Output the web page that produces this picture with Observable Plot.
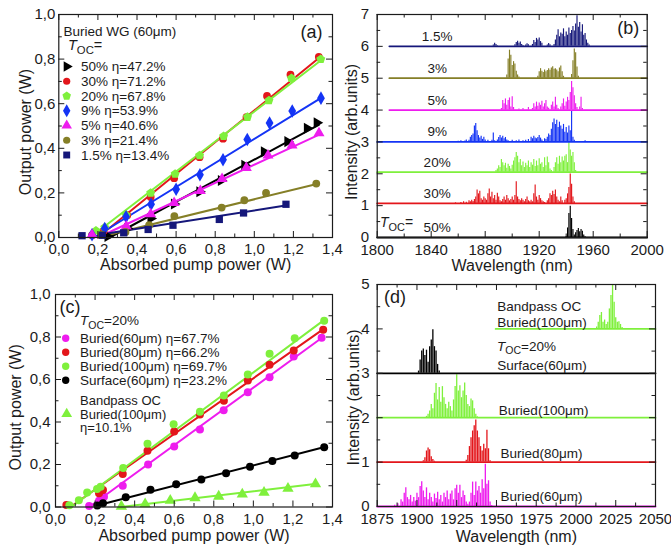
<!DOCTYPE html>
<html><head><meta charset="utf-8">
<script src="https://cdn.jsdelivr.net/npm/d3@7"></script>
<script src="https://cdn.jsdelivr.net/npm/@observablehq/plot@0.6"></script>
<style>
body{margin:0;background:#fff;}
#root{position:relative;width:671px;height:546px;overflow:hidden;background:#fff;}
</style></head><body><div id="root"></div>
<script>
// ================= DATA =================
// ---- Panel (a): Buried WG (60um), output power vs absorbed pump power
const tocA = ["50%","30%","20%","9%","5%","3%","1.5%"];
const etaA = ["47.2%","71.2%","67.8%","53.9%","40.6%","21.4%","13.4%"];
const a50 = [[0.25,0.005],[0.35,0.04],[0.47,0.085],[0.59,0.15],[0.72,0.205],[0.83,0.256],[0.95,0.324],[1.05,0.384],[1.17,0.43],[1.27,0.49],[1.32,0.515]];
const a30 = [[0.17,0.01],[0.23,0.03],[0.35,0.1],[0.47,0.182],[0.59,0.266],[0.72,0.36],[0.84,0.443],[0.96,0.54],[1.065,0.635],[1.185,0.73],[1.33,0.81]];
const a20 = [[0.19,0.03],[0.235,0.045],[0.345,0.1],[0.47,0.2],[0.595,0.285],[0.72,0.368],[0.843,0.454],[0.965,0.54],[1.075,0.615],[1.19,0.714],[1.34,0.8]];
const a9  = [[0.17,0.012],[0.235,0.04],[0.344,0.093],[0.472,0.149],[0.6,0.216],[0.722,0.281],[0.84,0.349],[0.964,0.439],[1.078,0.513],[1.194,0.567],[1.341,0.625]];
const a5  = [[0.17,0.012],[0.345,0.05],[0.47,0.105],[0.59,0.155],[0.724,0.209],[0.835,0.263],[0.959,0.313],[1.07,0.368],[1.193,0.413],[1.331,0.468]];
const a3  = [[0.22,0.013],[0.341,0.025],[0.462,0.055],[0.591,0.096],[0.833,0.134],[0.949,0.167],[1.06,0.2],[1.317,0.242]];
const a15 = [[0.119,0.008],[0.223,0.01],[0.332,0.021],[0.457,0.036],[0.584,0.055],[0.821,0.081],[0.945,0.11],[1.162,0.149]];
// linear fits: [[x0,y0],[x1,y1]]
const fitA50 = [[0.26,0],[1.33,0.505]];
const fitA30 = [[0.2,0],[1.34,0.812]];
const fitA20 = [[0.19,0.02],[1.345,0.797]];
const fitA9  = [[0.18,0],[1.34,0.625]];
const fitA5  = [[0.2,0],[1.34,0.465]];
const fitA3  = [[0.2,0],[1.32,0.24]];
const fitA15 = [[0.22,0.015],[1.16,0.143]];
const xTicksP = [0,0.2,0.4,0.6,0.8,1.0,1.2,1.4];
const xMinorP = [0.1,0.3,0.5,0.7,0.9,1.1,1.3];
const yTicksP = [0,0.2,0.4,0.6,0.8,1.0];
const yMinorP = [0.1,0.3,0.5,0.7,0.9];

// ---- Panel (b): spectra for different T_OC  ([wavelength nm, intensity above baseline])
const tocB = ["50%","30%","20%","9%","5%","3%","1.5%"];
const baseB = [0,1.07,2.05,3,4,5,6];
const startB = [1800,1800,1800,1800,1809,1809,1809];
const sB50 = [[1940,0.03],[1941,0.3],[1942,0.75],[1943,0.98],[1944,0.6],[1945,0.25],[1946,0.08],[1947,0.15],[1948,0.22],[1949,0.28],[1950,0.18],[1951,0.25],[1952,0.2],[1953,0.08],[1954,0.02]];
const sB30 = [[1858,0.02],[1862,0.03],[1864,0.05],[1866,0.04],[1868,0.08],[1869,0.05],[1870,0.1],[1871,0.06],[1872,0.12],[1873,0.2],[1874,0.42],[1875,0.3],[1876,0.38],[1877,0.15],[1878,0.1],[1879,0.2],[1880,0.15],[1881,0.1],[1882,0.3],[1883,0.45],[1884,0.2],[1885,0.35],[1886,0.15],[1887,0.25],[1888,0.1],[1889,0.32],[1890,0.2],[1891,0.08],[1892,0.05],[1893,0.12],[1894,0.2],[1895,0.1],[1896,0.25],[1897,0.15],[1898,0.08],[1899,0.12],[1900,0.2],[1901,0.1],[1902,0.25],[1903,0.68],[1904,0.2],[1905,0.12],[1906,0.08],[1907,0.15],[1908,0.1],[1909,0.05],[1910,0.12],[1911,0.2],[1912,0.08],[1913,0.05],[1914,0.1],[1915,0.05],[1916,0.3],[1917,0.58],[1918,0.2],[1919,0.1],[1920,0.25],[1921,0.15],[1922,0.08],[1923,0.05],[1924,0.03],[1926,0.08],[1927,0.15],[1928,0.3],[1929,0.25],[1930,0.38],[1931,0.28],[1932,0.42],[1933,0.2],[1934,0.1],[1935,0.05],[1936,0.2],[1937,0.08],[1939,0.1],[1940,0.15],[1941,0.3],[1942,0.5],[1943,0.92],[1944,0.6],[1945,0.2],[1946,0.05]];
const sB20 = [[1888,0.05],[1889,0.1],[1890,0.2],[1891,0.15],[1892,0.4],[1893,0.3],[1894,0.2],[1895,0.28],[1896,0.12],[1897,0.25],[1898,0.18],[1899,0.1],[1900,0.22],[1901,0.35],[1902,0.45],[1903,0.62],[1904,0.5],[1905,0.3],[1906,0.4],[1907,0.2],[1908,0.32],[1909,0.15],[1910,0.28],[1911,0.2],[1912,0.35],[1913,0.15],[1914,0.3],[1915,0.22],[1916,0.4],[1917,0.18],[1918,0.35],[1919,0.2],[1920,0.42],[1921,0.25],[1922,0.3],[1923,0.15],[1924,0.45],[1925,0.2],[1926,0.48],[1927,0.3],[1928,0.1],[1929,0.05],[1931,0.15],[1932,0.3],[1933,0.45],[1934,0.25],[1935,0.5],[1936,0.3],[1937,0.48],[1938,0.35],[1939,0.5],[1940,0.55],[1941,0.3],[1942,0.93],[1943,0.7],[1944,0.5],[1945,0.62],[1946,0.3],[1947,0.05]];
const sB9 = [[1860,0.02],[1862,0.04],[1865,0.03],[1866,0.06],[1868,0.05],[1869,0.15],[1870,0.2],[1871,0.25],[1872,0.5],[1873,0.58],[1874,0.35],[1875,0.2],[1876,0.12],[1877,0.18],[1878,0.08],[1879,0.15],[1880,0.06],[1882,0.05],[1885,0.05],[1886,0.28],[1887,0.04],[1889,0.06],[1890,0.14],[1891,0.2],[1892,0.12],[1893,0.18],[1894,0.1],[1895,0.14],[1896,0.06],[1897,0.04],[1900,0.05],[1903,0.04],[1905,0.06],[1908,0.04],[1910,0.05],[1912,0.08],[1914,0.15],[1915,0.1],[1916,0.18],[1917,0.12],[1918,0.1],[1919,0.14],[1920,0.2],[1921,0.12],[1922,0.06],[1924,0.1],[1925,0.08],[1926,0.15],[1927,0.25],[1928,0.2],[1929,0.4],[1930,0.6],[1931,0.72],[1932,0.55],[1933,0.68],[1934,0.45],[1935,0.62],[1936,0.5],[1937,0.4],[1938,0.55],[1939,0.3],[1940,0.45],[1941,0.28],[1942,0.5],[1943,0.35],[1944,0.97],[1945,0.15],[1946,0.05],[1954,0.04]];
const sB5 = [[1892,0.05],[1893,0.3],[1894,0.2],[1895,0.35],[1896,0.15],[1897,0.3],[1898,0.38],[1899,0.1],[1900,0.42],[1901,0.08],[1905,0.03],[1908,0.05],[1912,0.08],[1915,0.05],[1916,0.2],[1917,0.1],[1918,0.25],[1919,0.12],[1920,0.22],[1921,0.15],[1922,0.28],[1923,0.1],[1924,0.2],[1925,0.3],[1926,0.1],[1927,0.06],[1929,0.15],[1930,0.25],[1931,0.1],[1932,0.4],[1933,0.15],[1934,0.05],[1936,0.1],[1937,0.2],[1938,0.35],[1939,0.12],[1940,0.25],[1941,0.4],[1942,0.3],[1943,0.55],[1944,0.9],[1945,0.7],[1946,0.45],[1947,0.2],[1948,0.08],[1950,0.1],[1951,0.4],[1952,0.05]];
const sB3 = [[1896,0.1],[1897,0.6],[1898,0.88],[1899,0.72],[1900,0.4],[1901,0.52],[1902,0.45],[1903,0.22],[1904,0.1],[1905,0.04],[1919,0.06],[1920,0.2],[1921,0.3],[1922,0.22],[1923,0.18],[1924,0.26],[1925,0.2],[1926,0.24],[1927,0.3],[1928,0.25],[1929,0.32],[1930,0.36],[1931,0.28],[1932,0.3],[1933,0.26],[1934,0.2],[1935,0.32],[1936,0.38],[1937,0.2],[1938,0.06],[1944,0.12],[1945,0.55],[1946,0.92],[1947,0.8],[1948,0.35],[1949,0.06]];
const sB15 = [[1886,0.04],[1887,0.1],[1888,0.06],[1889,0.02],[1902,0.05],[1903,0.12],[1904,0.16],[1905,0.1],[1906,0.14],[1907,0.06],[1908,0.03],[1910,0.04],[1911,0.08],[1912,0.05],[1915,0.06],[1916,0.18],[1917,0.12],[1918,0.25],[1919,0.2],[1920,0.26],[1921,0.15],[1922,0.1],[1926,0.04],[1927,0.09],[1928,0.05],[1931,0.06],[1932,0.2],[1933,0.35],[1934,0.52],[1935,0.3],[1936,0.42],[1937,0.38],[1938,0.55],[1939,0.3],[1940,0.45],[1941,0.35],[1942,0.58],[1943,0.4],[1944,0.5],[1945,0.62],[1946,0.48],[1947,0.7],[1948,0.96],[1949,0.6],[1950,0.75],[1951,0.45],[1952,0.68],[1953,0.35],[1954,0.4],[1955,0.2],[1956,0.1],[1957,0.04]];
const xTicksB = [1800,1840,1880,1920,1960,2000];
const xMinorB = [1820,1860,1900,1940,1980];
const yTicksB = [0,1,2,3,4,5,6,7];
const yMinorB = [0.5,1.5,2.5,3.5,4.5,5.5,6.5];

// ---- Panel (c): T_OC = 20%, different waveguides
const nameC = ["Buried(60μm)","Buried(80μm)","Buried(100μm)","Surface(60μm)"];
const etaC = ["67.7%","66.2%","69.7%","23.2%"];
const c60 = [[0.17,0.005],[0.22,0.03],[0.245,0.048],[0.34,0.1],[0.468,0.2],[0.6,0.285],[0.73,0.365],[0.85,0.455],[0.972,0.54],[1.082,0.611],[1.204,0.708],[1.345,0.796]];
const c80 = [[0.055,0.01],[0.22,0.065],[0.24,0.08],[0.34,0.155],[0.465,0.265],[0.6,0.355],[0.73,0.435],[0.851,0.5],[0.972,0.595],[1.082,0.669],[1.204,0.736],[1.353,0.834]];
const c100 = [[0.07,0.008],[0.118,0.032],[0.16,0.068],[0.21,0.085],[0.228,0.095],[0.342,0.184],[0.465,0.298],[0.597,0.39],[0.73,0.448],[0.851,0.525],[0.972,0.624],[1.082,0.721],[1.209,0.794],[1.358,0.876]];
const cSurf = [[0.211,0.007],[0.24,0.018],[0.355,0.046],[0.48,0.081],[0.61,0.107],[0.737,0.129],[0.862,0.159],[0.983,0.19],[1.096,0.216],[1.209,0.242],[1.358,0.281]];
const cBand = [[0.333,0.003],[0.453,0.014],[0.58,0.031],[0.705,0.043],[0.825,0.05],[0.944,0.06],[1.054,0.068],[1.175,0.087],[1.314,0.108]];
const etaBand = "10.1%";
const fitC60 = [[0.17,0],[1.345,0.795]];
const fitC80 = [[0.075,0],[1.35,0.835]];
const fitC100 = [[0.08,0],[1.355,0.878]];
const fitCSurf = [[0.2,0.005],[1.36,0.282]];
const fitCBand = [[0.33,0],[1.31,0.108]];

// ---- Panel (d): spectra for different waveguides
const nameD = ["Buried(60μm)","Buried(80μm)","Buried(100μm)","Surface(60μm)","Bandpass OC"];
const baseD = [0,1,2,3,4];
const startD = [1875,1875,1875,1875,1949.5];
const sD60 = [[1886,0.03],[1888,0.06],[1890,0.15],[1891,0.1],[1892,0.3],[1893,0.42],[1894,0.2],[1895,0.15],[1896,0.25],[1897,0.1],[1898,0.2],[1899,0.12],[1900,0.3],[1901,0.2],[1902,0.45],[1903,0.56],[1904,0.35],[1905,0.2],[1906,0.42],[1907,0.15],[1908,0.3],[1909,0.2],[1910,0.1],[1911,0.28],[1912,0.18],[1913,0.32],[1914,0.15],[1915,0.25],[1916,0.1],[1917,0.3],[1918,0.2],[1919,0.35],[1920,0.15],[1921,0.28],[1922,0.35],[1923,0.15],[1924,0.4],[1925,0.48],[1926,0.3],[1927,0.48],[1928,0.2],[1929,0.35],[1930,0.25],[1931,0.1],[1932,0.05],[1933,0.1],[1934,0.3],[1935,0.55],[1936,0.25],[1937,0.55],[1938,0.35],[1939,0.45],[1940,0.3],[1941,0.6],[1942,0.4],[1943,0.95],[1944,0.5],[1945,0.58],[1946,0.1],[1947,0.02]];
const sD80 = [[1904,0.03],[1905,0.1],[1906,0.25],[1907,0.32],[1908,0.28],[1909,0.12],[1910,0.06],[1911,0.02],[1931,0.04],[1932,0.15],[1933,0.35],[1934,0.55],[1935,0.7],[1936,0.82],[1937,0.95],[1938,0.7],[1939,0.55],[1940,0.35],[1941,0.25],[1942,0.4],[1943,0.3],[1944,0.72],[1945,0.3],[1946,0.03]];
const sD100 = [[1906,0.03],[1907,0.08],[1908,0.15],[1909,0.3],[1910,0.2],[1911,0.55],[1912,0.77],[1913,0.4],[1914,0.68],[1915,0.35],[1916,0.7],[1917,0.45],[1918,0.3],[1919,0.2],[1920,0.35],[1921,0.25],[1922,0.15],[1923,0.4],[1924,0.7],[1925,0.97],[1926,0.6],[1927,0.72],[1928,0.45],[1929,0.6],[1930,0.78],[1931,0.5],[1932,0.3],[1933,0.25],[1934,0.42],[1935,0.38],[1936,0.2],[1937,0.08],[1938,0.02]];
const sDSurf = [[1901,0.05],[1902,0.3],[1903,0.5],[1904,0.55],[1905,0.4],[1906,0.52],[1907,0.25],[1908,0.6],[1909,0.75],[1910,0.98],[1911,0.6],[1912,0.5],[1913,0.2],[1914,0.05]];
const sDBand = [[2013,0.04],[2014,0.15],[2015,0.3],[2016,0.37],[2017,0.15],[2018,0.2],[2019,0.1],[2020,0.15],[2021,0.45],[2022,0.75],[2023,0.99],[2024,0.6],[2025,0.25],[2026,0.15],[2027,0.16],[2028,0.1],[2029,0.03]];
const xTicksD = [1875,1900,1925,1950,1975,2000,2025,2050];
const xMinorD = [1887.5,1912.5,1937.5,1962.5,1987.5,2012.5,2037.5];
const yTicksD = [0,1,2,3,4,5];
const yMinorD = [0.5,1.5,2.5,3.5,4.5];

// ================= STYLE =================
const FONT = '"Liberation Sans", Arial, Helvetica, sans-serif';
const INK = "#1b1b1b";
const COL = {black:"#000000", red:"#e3161b", green:"#7ff03c", blue:"#1434f5", magenta:"#ee1cee", olive:"#857f27", navy:"#15177a"};
const symTriRight = {draw(ctx, size){const s=Math.sqrt(size/0.433), h=s*0.866; ctx.moveTo(h*2/3,0); ctx.lineTo(-h/3,-s/2); ctx.lineTo(-h/3,s/2); ctx.closePath();}};
const symPent = {draw(ctx, size){const r=Math.sqrt(size/2.3776); for(let i=0;i<5;i++){const a=-Math.PI/2+i*2*Math.PI/5; const x=r*Math.cos(a), y=r*Math.sin(a); if(i) ctx.lineTo(x,y); else ctx.moveTo(x,y);} ctx.closePath();}};
const styleA = [
  {c:COL.black, s:symTriRight},{c:COL.red, s:"circle"},{c:COL.green, s:symPent},{c:COL.blue, s:"diamond"},
  {c:COL.magenta, s:"triangle"},{c:COL.olive, s:"circle"},{c:COL.navy, s:"square"}];
const ptsA = [a50,a30,a20,a9,a5,a3,a15];
const fitsA = [fitA50,fitA30,fitA20,fitA9,fitA5,fitA3,fitA15];
const colB = [COL.black,COL.red,COL.green,COL.blue,COL.magenta,COL.olive,COL.navy];
const specB = [sB50,sB30,sB20,sB9,sB5,sB3,sB15];
const colC = [COL.magenta,COL.red,COL.green,COL.black];
const ptsC = [c60,c80,c100,cSurf];
const fitsC = [fitC60,fitC80,fitC100,fitCSurf];
const colD = [COL.magenta,COL.red,COL.green,COL.black,COL.green];
const specD = [sD60,sD80,sD100,sDSurf,sDBand];

const fmtComma = d => d.toFixed(1).replace(".", ",");
const root = document.getElementById("root");

function frameMarks(xMaj,xMin,yMaj,yMin,iw,ih){
  const s = {stroke:INK, strokeWidth:1};
  const M = 6, m = 3.5;
  return [
    Plot.tickX(xMaj,{x:d=>d, insetTop:ih-M, ...s}),
    Plot.tickX(xMaj,{x:d=>d, insetBottom:ih-M, ...s}),
    Plot.tickX(xMin,{x:d=>d, insetTop:ih-m, ...s}),
    Plot.tickX(xMin,{x:d=>d, insetBottom:ih-m, ...s}),
    Plot.tickY(yMaj,{y:d=>d, insetRight:iw-M, ...s}),
    Plot.tickY(yMaj,{y:d=>d, insetLeft:iw-M, ...s}),
    Plot.tickY(yMin,{y:d=>d, insetRight:iw-m, ...s}),
    Plot.tickY(yMin,{y:d=>d, insetLeft:iw-m, ...s}),
    Plot.frame({stroke:INK, strokeWidth:1.2})
  ];
}
function place(svg, left, top){
  svg.style.position = "absolute"; svg.style.left = left+"px"; svg.style.top = top+"px";
  svg.style.maxWidth = "none"; svg.style.background = "transparent";
  root.appendChild(svg);
}
function panel({left, top, width, height, mt, mr, mb, ml, xDom, yDom, xMaj, xMin, yMaj, yMin, xFmt, yFmt, xPad, yPad, xTitle, yTitle, xtDy, ytDx, ytDy, marks}){
  const iw = width-ml-mr, ih = height-mt-mb;
  const svg = Plot.plot({
    width, height, marginTop:mt, marginRight:mr, marginBottom:mb, marginLeft:ml,
    x:{domain:xDom}, y:{domain:yDom},
    style:{fontFamily:FONT, color:INK, background:"transparent", overflow:"visible"},
    marks:[
      ...marks,
      ...frameMarks(xMaj,xMin,yMaj,yMin,iw,ih),
      Plot.axisX({ticks:xMaj, tickSize:0, tickPadding:xPad, tickFormat:xFmt, fontSize:15, label:null}),
      Plot.axisY({ticks:yMaj, tickSize:0, tickPadding:yPad, tickFormat:yFmt, fontSize:15, label:null}),
      Plot.text([xTitle],{text:d=>d, frameAnchor:"bottom", textAnchor:"middle", lineAnchor:"middle", dy:xtDy, fontSize:16}),
      Plot.text([yTitle],{text:d=>d, frameAnchor:"left", textAnchor:"middle", lineAnchor:"middle", dx:ytDx, dy:ytDy, rotate:-90, fontSize:16})
    ]
  });
  place(svg, left, top);
}

// ---------- Panel (a)
const marksA = [];
fitsA.forEach((f,i)=>marksA.push(Plot.line(f,{x:d=>d[0], y:d=>d[1], stroke:styleA[i].c, strokeWidth:2})));
ptsA.forEach((p,i)=>marksA.push(Plot.dot(p,{x:d=>d[0], y:d=>d[1], fill:styleA[i].c, symbol:styleA[i].s, r:(styleA[i].s==="circle"?3.9:4.1)})));
panel({left:0, top:0, width:340, height:270, mt:14, mr:8, mb:33, ml:58.3,
  xDom:[0,1.4], yDom:[0,1], xMaj:xTicksP, xMin:xMinorP, yMaj:yTicksP, yMin:yMinorP,
  xFmt:fmtComma, yFmt:fmtComma, xPad:6, yPad:3.5,
  xTitle:"Absorbed pump power (W)", yTitle:"Output power (W)", xtDy:27.5, ytDx:-33, ytDy:6, marks:marksA});

// ---------- Panel (b)
const marksB = [];
specB.forEach((s,i)=>{
  marksB.push(Plot.line([[startB[i],baseB[i]],[2000,baseB[i]]],{x:d=>d[0], y:d=>d[1], stroke:colB[i], strokeWidth:1.8}));
  marksB.push(Plot.ruleX(s,{x:d=>d[0], y1:()=>baseB[i], y2:d=>baseB[i]+d[1], stroke:colB[i], strokeWidth:1.15}));
});
const labelXB = 1844.4;
marksB.push(Plot.text(tocB.map((t,i)=>({t, y:baseB[i]})),{x:()=>labelXB, y:d=>d.y+0.31, text:d=>d.t, fontSize:13.5, fill:INK}));
panel({left:330, top:0, width:341, height:270, mt:14, mr:24.3, mb:33, ml:46.7,
  xDom:[1800,2000], yDom:[0,7], xMaj:xTicksB, xMin:xMinorB, yMaj:yTicksB, yMin:yMinorB,
  xFmt:d=>String(d), yFmt:d=>String(d), xPad:7, yPad:8,
  xTitle:"Wavelength (nm)", yTitle:"Intensity (arb.units)", xtDy:28.5, ytDx:-25, ytDy:6, marks:marksB});

// ---------- Panel (c)
const marksC = [];
fitsC.forEach((f,i)=>marksC.push(Plot.line(f,{x:d=>d[0], y:d=>d[1], stroke:colC[i], strokeWidth:2})));
marksC.push(Plot.line(fitCBand,{x:d=>d[0], y:d=>d[1], stroke:COL.green, strokeWidth:2}));
ptsC.forEach((p,i)=>marksC.push(Plot.dot(p,{x:d=>d[0], y:d=>d[1], fill:colC[i], r:4})));
marksC.push(Plot.dot(cBand,{x:d=>d[0], y:d=>d[1], fill:COL.green, symbol:"triangle", r:4.2}));
panel({left:0, top:270, width:340, height:276, mt:24, mr:8, mb:39.5, ml:55,
  xDom:[0,1.4], yDom:[0,1], xMaj:xTicksP, xMin:xMinorP, yMaj:yTicksP, yMin:yMinorP,
  xFmt:fmtComma, yFmt:fmtComma, xPad:6, yPad:5,
  xTitle:"Absorbed pump power (W)", yTitle:"Output power (W)", xtDy:28.5, ytDx:-40, ytDy:6.5, marks:marksC});

// ---------- Panel (d)
const marksD = [];
specD.forEach((s,i)=>{
  marksD.push(Plot.line([[startD[i],baseD[i]],[2050,baseD[i]]],{x:d=>d[0], y:d=>d[1], stroke:colD[i], strokeWidth:1.8}));
  marksD.push(Plot.ruleX(s,{x:d=>d[0], y1:()=>baseD[i], y2:d=>baseD[i]+d[1], stroke:colD[i], strokeWidth:1.3}));
});
const labelsD = [
  {t:"Buried(60μm)", x:1952.5, y:0.22}, {t:"Buried(80μm)", x:1952.5, y:1.2}, {t:"Buried(100μm)", x:1951.5, y:2.16},
  {t:"Surface(60μm)", x:1950.5, y:3.18}, {t:"Bandpass OC", x:1950.5, y:4.49}, {t:"Buried(100μm)", x:1950.5, y:4.15}];
marksD.push(Plot.text(labelsD,{x:"x", y:"y", text:"t", textAnchor:"start", fontSize:13.5, fill:INK}));
panel({left:330, top:270, width:341, height:276, mt:14, mr:16, mb:40, ml:46.7,
  xDom:[1875,2050], yDom:[0,5], xMaj:xTicksD, xMin:xMinorD, yMaj:yTicksD, yMin:yMinorD,
  xFmt:d=>String(d), yFmt:d=>String(d), xPad:6.5, yPad:7.5,
  xTitle:"Wavelength (nm)", yTitle:"Intensity (arb.units)", xtDy:30, ytDx:-23.4, ytDy:2, marks:marksD});

// ================= OVERLAY: legends, panel letters, T_OC labels =================
const ov = d3.select(root).append("svg").attr("width",671).attr("height",546)
  .style("position","absolute").style("left","0px").style("top","0px")
  .style("font-family",FONT).style("pointer-events","none");
function txt(x, y, s, fs, anchor){
  return ov.append("text").attr("x",x).attr("y",y).attr("font-size",fs).attr("fill",INK)
    .attr("dominant-baseline","central").attr("text-anchor",anchor||"start").text(s);
}
function toc(x, y, rest, fs){
  const t = ov.append("text").attr("x",x).attr("y",y+fs*0.36).attr("font-size",fs).attr("fill",INK);
  t.append("tspan").attr("font-style","italic").text("T");
  t.append("tspan").attr("font-size",fs*0.78).attr("dy",3.5).text("OC");
  t.append("tspan").attr("dy",-3.5).text(rest);
}
function sym(x, y, type, color, r){
  ov.append("path").attr("transform",`translate(${x},${y})`)
    .attr("d", d3.symbol(typeof type==="string" ? {circle:d3.symbolCircle, diamond:d3.symbolDiamond, triangle:d3.symbolTriangle, square:d3.symbolSquare}[type] : type, Math.PI*r*r)())
    .attr("fill", color);
}
// (a) legend
txt(63.5, 31.5, "Buried WG (60μm)", 13.5);
toc(68, 45, "=", 14.5);
tocA.forEach((t,i)=>{
  const y = 66.5 + 14.75*i;
  sym(66.7, y, styleA[i].s, styleA[i].c, styleA[i].s==="circle"?3.6:3.9);
  txt(81, y, `${t} η=${etaA[i]}`, 13.5);
});
txt(311.5, 32, "(a)", 18, "middle");
// (b)
txt(628.3, 27.5, "(b)", 18, "middle");
toc(380, 222, "=", 14);
// (c) legend
txt(70, 306.5, "(c)", 18, "middle");
toc(80, 320.5, "=20%", 13.5);
nameC.forEach((n,i)=>{
  const y = 338.3 + 14*i;
  sym(65.7, y, "circle", colC[i], 3.7);
  txt(80, y, `${n} η=${etaC[i]}`, 13.5);
});
txt(80, 400.5, "Bandpass OC", 13);
sym(66.7, 414, "triangle", COL.green, 4);
txt(80, 414, "Buried(100μm)", 13);
txt(80, 427.5, `η=${etaBand}`, 13);
// (d)
txt(395, 296.7, "(d)", 18, "middle");
toc(497, 346, "=20%", 13.5);
</script></body></html>
